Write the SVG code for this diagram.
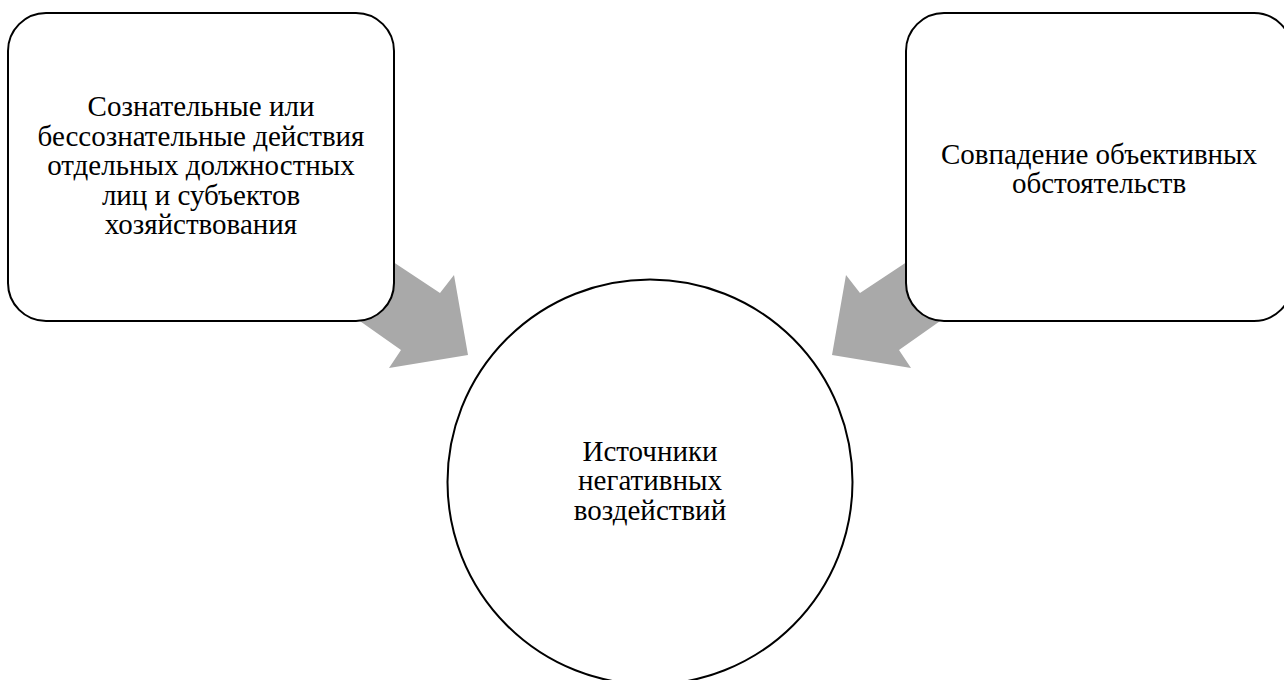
<svg xmlns="http://www.w3.org/2000/svg" width="1284" height="680" viewBox="0 0 1284 680">
<style>
.box{fill:#ffffff;stroke:#000000;stroke-width:2}
.arrow{fill:#a9a9a9;stroke:none}
.t{font-family:"Liberation Serif","Times New Roman",serif;font-size:29px;fill:#000000;text-anchor:middle}
</style>
<rect width="1284" height="680" fill="#ffffff"/>
<g id="connectors">
<polygon class="arrow" points="360,240 440,293 454,275 468,355 389,368 401,350 330,300"/>
<polygon class="arrow" points="940,240 860,293 846,275 832,355 911,368 899,350 970,300"/>
</g>
<g id="node-left">
<rect class="box" x="8" y="13" width="386" height="308" rx="38" ry="38"/>
<text class="t" x="201" y="116">Сознательные или</text>
<text class="t" x="201" y="145.5">бессознательные действия</text>
<text class="t" x="201" y="175">отдельных должностных</text>
<text class="t" x="201" y="204.5">лиц и субъектов</text>
<text class="t" x="201" y="234">хозяйствования</text>
</g>
<g id="node-right">
<rect class="box" x="906" y="13" width="386" height="308" rx="38" ry="38"/>
<text class="t" x="1099" y="163.5">Совпадение объективных</text>
<text class="t" x="1099" y="193">обстоятельств</text>
</g>
<g id="node-center">
<circle class="box" cx="650" cy="482" r="202.5"/>
<text class="t" x="650" y="460.5">Источники</text>
<text class="t" x="650" y="490">негативных</text>
<text class="t" x="650" y="519.5">воздействий</text>
</g>
</svg>
